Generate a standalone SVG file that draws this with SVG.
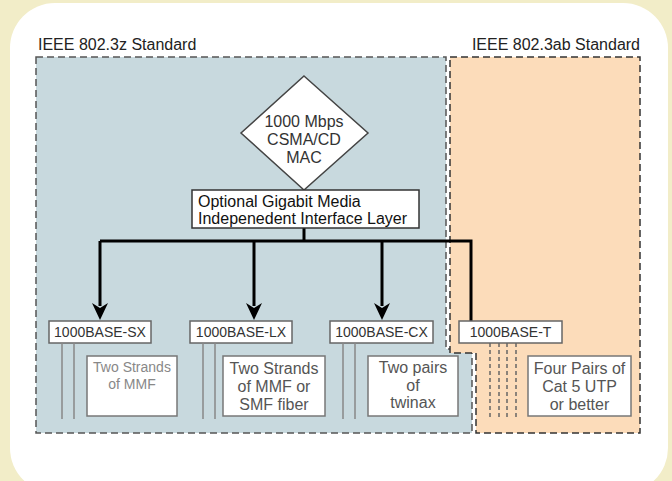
<svg xmlns="http://www.w3.org/2000/svg" width="672" height="481" viewBox="0 0 672 481">
<defs>
<style>
text{font-family:"Liberation Sans",Arial,sans-serif;}
.std{font-size:16px;fill:#222;}
.box{fill:#fff;stroke:#666;stroke-width:1.5;}
.lbl{font-size:14px;fill:#333;text-anchor:middle;}
.desc{fill:#fff;stroke:#777;stroke-width:1.5;}
.dt{font-size:16px;fill:#555;text-anchor:middle;}
.wire{stroke:#888;stroke-width:1.5;fill:none;}
.utp{stroke:#666;stroke-width:1.5;stroke-dasharray:4 3;fill:none;}
.conn{stroke:#000;stroke-width:3;fill:none;}
</style>
<marker id="arr" markerUnits="userSpaceOnUse" markerWidth="18" markerHeight="18" viewBox="-9 -17 18 18" refX="0" refY="0" orient="auto-start-reverse">
<path d="M0,0 L-8,-17 L0,-12 L8,-17 Z" fill="#000" transform="rotate(-90)"/>
</marker>
</defs>
<rect x="0" y="0" width="672" height="481" fill="#f2edc8"/>
<rect x="10" y="3" width="658" height="490" rx="45" ry="45" fill="#fff"/>
<g id="std-z">
<path d="M36,57 H446 V349 H472 V433 H36 Z" fill="#c8d9de" stroke="#555" stroke-width="1.5" stroke-dasharray="7 4"/>
<text class="std" x="38" y="50">IEEE 802.3z Standard</text>
</g>
<g id="std-ab">
<path d="M450,57 H640 V433 H476 V353 H450 Z" fill="#fcdcba" stroke="#333" stroke-width="1.5" stroke-dasharray="7 4"/>
<text class="std" x="640" y="50" text-anchor="end">IEEE 802.3ab Standard</text>
</g>
<g id="connectors">
<path class="conn" d="M304,228 V241"/>
<path class="conn" d="M100,241 H471 V321"/>
<path class="conn" d="M100,241 V306"/>
<path class="conn" d="M254,241 V306"/>
<path class="conn" d="M382,241 V306"/>
<path d="M100,320 L92,303 L100,308 L108,303 Z" fill="#000"/>
<path d="M254,320 L246,303 L254,308 L262,303 Z" fill="#000"/>
<path d="M382,320 L374,303 L382,308 L390,303 Z" fill="#000"/>
</g>
<g id="mac">
<path d="M304,76 L368,133 L304,190 L241,133 Z" fill="#fff" stroke="#444" stroke-width="1.5"/>
<text x="304" y="127" font-size="16" fill="#333" text-anchor="middle">1000 Mbps</text>
<text x="304" y="145" font-size="16" fill="#333" text-anchor="middle">CSMA/CD</text>
<text x="304" y="163" font-size="16" fill="#333" text-anchor="middle">MAC</text>
</g>
<g id="gmii">
<rect x="192" y="190" width="227" height="38" fill="#fff" stroke="#333" stroke-width="1.5"/>
<text x="198" y="207" font-size="16" fill="#111">Optional Gigabit Media</text>
<text x="198" y="224" font-size="16" fill="#111">Indepenedent Interface Layer</text>
</g>
<g id="sx">
<rect class="box" x="49" y="321" width="102" height="22"/>
<text class="lbl" x="100" y="337">1000BASE-SX</text>
<path class="wire" d="M62,343 V419 M74,343 V419"/>
<rect class="desc" x="87" y="356" width="90" height="60"/>
<text x="132" y="372" font-size="14" fill="#888" text-anchor="middle">Two Strands</text>
<text x="132" y="389" font-size="14" fill="#888" text-anchor="middle">of MMF</text>
</g>
<g id="lx">
<rect class="box" x="190" y="321" width="102" height="22"/>
<text class="lbl" x="241" y="337">1000BASE-LX</text>
<path class="wire" d="M203,343 V419 M215,343 V419"/>
<rect class="desc" x="223" y="356" width="102" height="60"/>
<text class="dt" x="274" y="374">Two Strands</text>
<text class="dt" x="274" y="392">of MMF or</text>
<text class="dt" x="274" y="410">SMF fiber</text>
</g>
<g id="cx">
<rect class="box" x="330" y="321" width="103" height="22"/>
<text class="lbl" x="381.5" y="337">1000BASE-CX</text>
<path class="wire" d="M343,343 V419 M355,343 V419"/>
<rect class="desc" x="368" y="356" width="90" height="60"/>
<text class="dt" x="413" y="373">Two pairs</text>
<text class="dt" x="413" y="391">of</text>
<text class="dt" x="413" y="408">twinax</text>
</g>
<g id="t">
<rect class="box" x="459" y="321" width="103" height="22"/>
<text class="lbl" x="510.5" y="337">1000BASE-T</text>
<path class="utp" d="M490,343 V420 M499,343 V420 M507,343 V420 M516,343 V420"/>
<rect class="desc" x="528" y="356" width="103" height="60"/>
<text class="dt" x="579.5" y="374">Four Pairs of</text>
<text class="dt" x="579.5" y="392">Cat 5 UTP</text>
<text class="dt" x="579.5" y="410">or better</text>
</g>
</svg>
